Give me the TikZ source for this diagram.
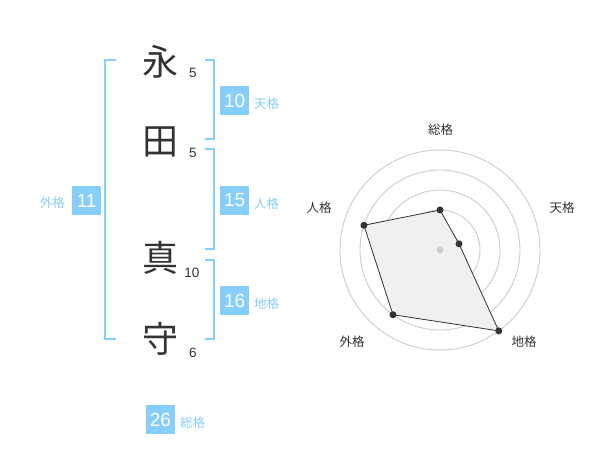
\documentclass[tikz,border=0pt]{standalone}
\usepackage{fontspec}
\setmainfont{Liberation Sans}
\newfontfamily\jp{Noto Sans CJK JP}
\usetikzlibrary{calc}
\definecolor{sky}{RGB}{135,206,250}
\definecolor{dark}{RGB}{51,51,51}
\definecolor{ring}{RGB}{204,204,204}
\definecolor{fillg}{RGB}{240,240,240}
\tikzset{
  kanji/.style={font=\jp\fontsize{36}{36}\selectfont, text=dark, inner sep=0pt},
  strokes/.style={font=\fontsize{13.5}{14}\selectfont, text=dark, inner sep=0pt},
  numbox/.style={fill=sky, text=white, minimum size=29pt, inner sep=0pt, font=\fontsize{19}{19}\selectfont},
  kaku/.style={font=\jp\fontsize{12.5}{13}\selectfont, text=sky, inner sep=0pt},
  bracket/.style={draw=sky, line width=2pt},
  axislabel/.style={font=\jp\fontsize{12.5}{13}\selectfont, text=dark, inner sep=0pt},
  ringst/.style={draw=ring, line width=0.9pt},
  poly/.style={draw=dark, line width=0.8pt, fill=fillg},
  vdot/.style={circle, fill=dark, minimum size=7pt, inner sep=0pt},
  cdot/.style={circle, fill=ring, minimum size=7pt, inner sep=0pt}
}
\begin{document}
\begin{tikzpicture}[x=1pt,y=-1pt]
\useasboundingbox[fill=white] (0,0) rectangle (600,470);
% name characters
\node[kanji] (k1) at (160,62) {永};
\node[kanji] (k2) at (160,142) {田};
\node[kanji] (k3) at (160,258) {真};
\node[kanji] (k4) at (160,339) {守};
% stroke counts
\node[strokes] (s1) at (193,73) {5};
\node[strokes] (s2) at (193,153) {5};
\node[strokes] (s3) at (192,273) {10};
\node[strokes] (s4) at (193,353) {6};
% brackets
\draw[bracket] (116,60) -- (105,60) -- (105,339) -- (116,339);
\draw[bracket] (205,60) -- (214,60) -- (214,139) -- (205,139);
\draw[bracket] (205,149) -- (214,149) -- (214,249) -- (205,249);
\draw[bracket] (205,260) -- (214,260) -- (214,339) -- (205,339);
% boxes
\node[numbox] (ten) at (234.7,100.5) {10};
\node[kaku, anchor=west] (tenl) at (254,104) {天格};
\node[numbox] (jin) at (234.7,200.5) {15};
\node[kaku, anchor=west] (jinl) at (254,204) {人格};
\node[numbox] (chi) at (234.7,300.5) {16};
\node[kaku, anchor=west] (chil) at (254,304) {地格};
\node[numbox] (gai) at (86.7,200.5) {11};
\node[kaku, anchor=east] (gail) at (65,203) {外格};
\node[numbox] (sou) at (160.5,419.5) {26};
\node[kaku, anchor=west] (soul) at (180,423) {総格};
% radar chart
\coordinate (c) at (440,250);
\foreach \r in {20,40,60,80,100} \draw[ringst] (c) circle[radius=\r pt];
\coordinate (p1) at ($(c)+(90:40pt)$);
\coordinate (p2) at ($(c)+(18:20pt)$);
\coordinate (p3) at ($(c)+(-54:100pt)$);
\coordinate (p4) at ($(c)+(-126:80pt)$);
\coordinate (p5) at ($(c)+(162:80pt)$);
\draw[poly] (p1) -- (p2) -- (p3) -- (p4) -- (p5) -- cycle;
\node[cdot] (cd) at (c) {};
\foreach \i in {1,...,5} \node[vdot] (d\i) at (p\i) {};
\node[axislabel] (a1) at (440.7,130) {総格};
\node[axislabel] (a2) at (562,208) {天格};
\node[axislabel] (a3) at (524,342) {地格};
\node[axislabel] (a4) at (352,342) {外格};
\node[axislabel] (a5) at (319,208) {人格};
\end{tikzpicture}
\end{document}
